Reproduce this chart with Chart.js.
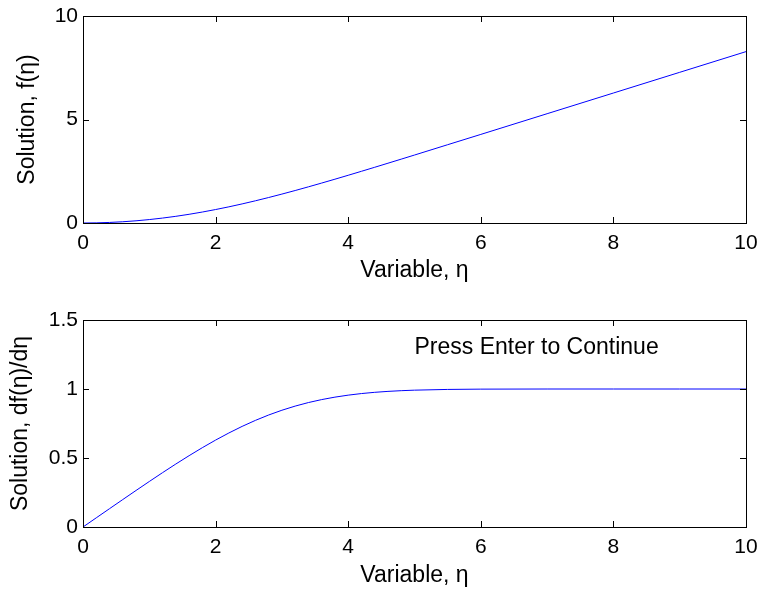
<!DOCTYPE html>
<html>
<head>
<meta charset="utf-8">
<script src="https://cdn.jsdelivr.net/npm/chart.js@4"></script>
<style>
  body { margin: 0; background: #fff; }
  .wrap { position: relative; width: 759px; height: 296px; }
</style>
</head>
<body>
<div class="wrap"><canvas id="topChart" width="759" height="296"></canvas></div>
<div class="wrap"><canvas id="bottomChart" width="759" height="296"></canvas></div>
<script>
// Blasius solution
const eta = [0, 0.2, 0.4, 0.6, 0.8, 1.0, 1.2, 1.4, 1.6, 1.8, 2.0, 2.2, 2.4, 2.6, 2.8,
  3.0, 3.2, 3.4, 3.6, 3.8, 4.0, 4.2, 4.4, 4.6, 4.8, 5.0, 5.5, 6, 7, 8, 9, 10];
const f = [0, 0.0066, 0.0266, 0.0597, 0.1061, 0.1656, 0.2380, 0.3230, 0.4203, 0.5295,
  0.6500, 0.7812, 0.9223, 1.0725, 1.2310, 1.3968, 1.5691, 1.7470, 1.9295, 2.1161,
  2.3058, 2.4981, 2.6924, 2.8883, 3.0853, 3.2833, 3.7818, 4.2796, 5.2793, 6.2792,
  7.2792, 8.2792];
const fp = [0, 0.0664, 0.1328, 0.1989, 0.2647, 0.3298, 0.3938, 0.4563, 0.5168, 0.5748,
  0.6298, 0.6813, 0.7290, 0.7725, 0.8115, 0.8461, 0.8761, 0.9018, 0.9233, 0.9411,
  0.9555, 0.9670, 0.9759, 0.9827, 0.9878, 0.9916, 0.9969, 0.9990, 0.9999, 1.0, 1.0, 1.0];

const xTicks = [0, 2, 4, 6, 8, 10];
const yTicksTop = [0, 5, 10];
const yTicksBottom = [0, 0.5, 1, 1.5];

const note = "Press Enter to Continue";
const noteAt = [5, 1.3];

const family = "'Liberation Sans', Arial, sans-serif";

const boxTicks = {
  id: "boxTicks",
  afterDatasetsDraw(chart) {
    const { ctx, chartArea: a, scales: { x, y } } = chart;
    ctx.save();
    ctx.strokeStyle = "#000";
    ctx.lineWidth = 1;
    ctx.beginPath();
    x.ticks.forEach((t) => {
      const px = Math.round(x.getPixelForValue(t.value)) + 0.5;
      ctx.moveTo(px, a.bottom); ctx.lineTo(px, a.bottom - 6);
      ctx.moveTo(px, a.top); ctx.lineTo(px, a.top + 6);
    });
    y.ticks.forEach((t) => {
      const py = Math.round(y.getPixelForValue(t.value)) + 0.5;
      ctx.moveTo(a.left, py); ctx.lineTo(a.left + 6, py);
      ctx.moveTo(a.right, py); ctx.lineTo(a.right - 6, py);
    });
    ctx.stroke();
    ctx.strokeRect(Math.round(a.left) + 0.5, Math.round(a.top) + 0.5,
      Math.round(a.right - a.left), Math.round(a.bottom - a.top));
    ctx.restore();
  },
};

const noteText = {
  id: "noteText",
  afterDraw(chart, args, opts) {
    if (!opts.text) return;
    const { ctx, scales: { x, y } } = chart;
    ctx.save();
    ctx.fillStyle = "#000";
    ctx.font = "23px " + family;
    ctx.textAlign = "left";
    ctx.textBaseline = "middle";
    ctx.fillText(opts.text, x.getPixelForValue(opts.at[0]), y.getPixelForValue(opts.at[1]));
    ctx.restore();
  },
};

function makeChart(id, values, yTicks, yMax, yTitle, cfg) {
  return new Chart(document.getElementById(id), {
    type: "line",
    data: {
      datasets: [{
        data: eta.map((e, i) => ({ x: e, y: values[i] })),
        borderColor: "#0000ff",
        borderWidth: 1,
        pointRadius: 0,
        tension: 0,
        fill: false,
      }],
    },
    options: {
      responsive: false,
      animation: false,
      layout: { padding: { top: cfg.top, right: 13, left: 0, bottom: 0 } },
      plugins: {
        legend: { display: false },
        tooltip: { enabled: false },
        noteText: cfg.note || {},
      },
      scales: {
        x: {
          type: "linear",
          min: 0,
          max: 10,
          afterBuildTicks: (s) => { s.ticks = xTicks.map((v) => ({ value: v })); },
          afterFit: (s) => { s.height = cfg.xHeight; s.paddingLeft = 0; s.paddingRight = 0; },
          grid: { display: false, drawTicks: false },
          border: { display: false },
          ticks: { color: "#000", padding: 8, font: { size: 21, family }, callback: (v) => String(v) },
          title: {
            display: true,
            text: "Variable, η",
            color: "#000",
            font: { size: 23, family },
            padding: { top: 0, bottom: cfg.xTitlePad },
          },
        },
        y: {
          type: "linear",
          min: 0,
          max: yMax,
          afterBuildTicks: (s) => { s.ticks = yTicks.map((v) => ({ value: v })); },
          afterFit: (s) => { s.width = 83; s.paddingTop = 0; s.paddingBottom = 0; },
          grid: { display: false, drawTicks: false },
          border: { display: false },
          ticks: { color: "#000", padding: 5, font: { size: 21, family }, callback: (v) => String(v) },
          title: {
            display: true,
            text: yTitle,
            color: "#000",
            font: { size: 23, family },
            padding: { top: cfg.yTitlePad, bottom: 0 },
          },
        },
      },
    },
    plugins: [boxTicks, noteText],
  });
}

makeChart("topChart", f, yTicksTop, 10, "Solution, f(η)",
  { top: 16, xHeight: 73, xTitlePad: 12, yTitlePad: 14 });
makeChart("bottomChart", fp, yTicksBottom, 1.5, "Solution, df(η)/dη",
  { top: 24, xHeight: 65, xTitlePad: 3, yTitlePad: 7, note: { text: note, at: noteAt } });
</script>
</body>
</html>
